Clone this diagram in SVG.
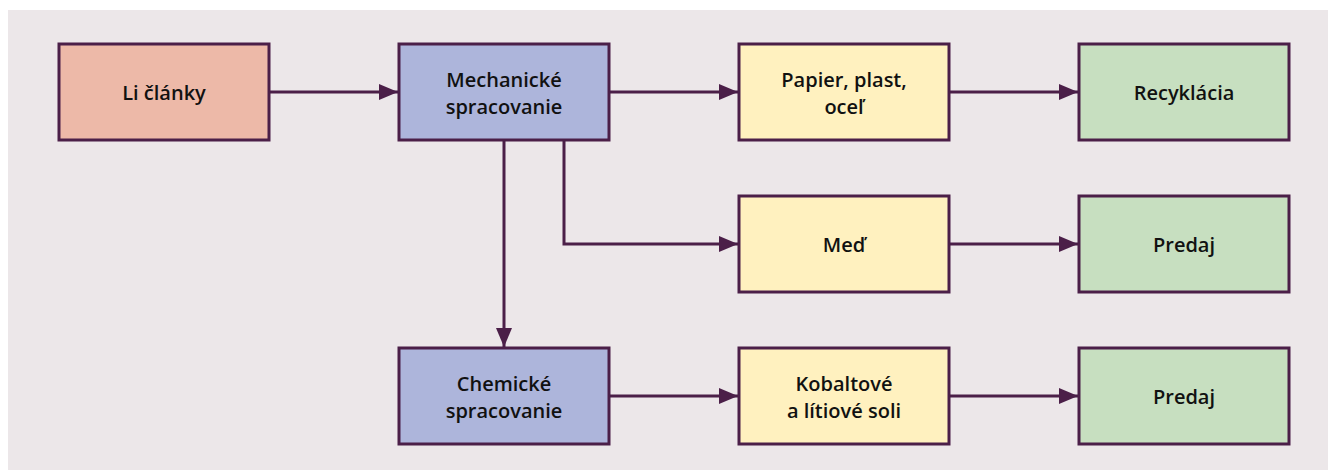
<svg xmlns="http://www.w3.org/2000/svg" width="1328" height="470" viewBox="0 0 1328 470">
  <style>
    .box { stroke: #4B1F48; stroke-width: 3; }
    .src { fill: #EDB9A8; }
    .proc { fill: #ADB5DB; }
    .mat { fill: #FFF1BF; }
    .out { fill: #C7DFC0; }
    .lbl { font-family: "Open Sans", "Noto Sans", sans-serif; font-weight: 600; font-size: 20px; fill: #111111; text-anchor: middle; }
    .edge { fill: none; stroke: #4B1F48; stroke-width: 3; }
  </style>
  <defs>
    <marker id="arrow" markerUnits="userSpaceOnUse" markerWidth="20" markerHeight="16" refX="19" refY="8" orient="auto">
      <path d="M0,0 L19,8 L0,16 Z" fill="#4B1F48"/>
    </marker>
  </defs>

  <rect x="8" y="10" width="1320" height="460" fill="#ECE7E9"/>

  <g id="connectors">
    <path class="edge" d="M269,92 H398" marker-end="url(#arrow)"/>
    <path class="edge" d="M609,92 H738" marker-end="url(#arrow)"/>
    <path class="edge" d="M949,92 H1078" marker-end="url(#arrow)"/>
    <path class="edge" d="M564,141 V244 H738" marker-end="url(#arrow)"/>
    <path class="edge" d="M949,244 H1078" marker-end="url(#arrow)"/>
    <path class="edge" d="M504,141 V347" marker-end="url(#arrow)"/>
    <path class="edge" d="M609,396 H738" marker-end="url(#arrow)"/>
    <path class="edge" d="M949,396 H1078" marker-end="url(#arrow)"/>
  </g>

  <g id="li-clanky">
    <rect class="box src" x="59" y="44" width="210" height="96"/>
    <text class="lbl" x="164" y="100">Li články</text>
  </g>
  <g id="mechanicke">
    <rect class="box proc" x="399" y="44" width="210" height="96"/>
    <text class="lbl" x="504" y="87">Mechanické</text>
    <text class="lbl" x="504" y="114">spracovanie</text>
  </g>
  <g id="papier">
    <rect class="box mat" x="739" y="44" width="210" height="96"/>
    <text class="lbl" x="844" y="87">Papier, plast,</text>
    <text class="lbl" x="844" y="114">oceľ</text>
  </g>
  <g id="recyklacia">
    <rect class="box out" x="1079" y="44" width="210" height="96"/>
    <text class="lbl" x="1184" y="100">Recyklácia</text>
  </g>
  <g id="med">
    <rect class="box mat" x="739" y="196" width="210" height="96"/>
    <text class="lbl" x="844" y="252">Meď</text>
  </g>
  <g id="predaj-1">
    <rect class="box out" x="1079" y="196" width="210" height="96"/>
    <text class="lbl" x="1184" y="252">Predaj</text>
  </g>
  <g id="chemicke">
    <rect class="box proc" x="399" y="348" width="210" height="96"/>
    <text class="lbl" x="504" y="391">Chemické</text>
    <text class="lbl" x="504" y="418">spracovanie</text>
  </g>
  <g id="soli">
    <rect class="box mat" x="739" y="348" width="210" height="96"/>
    <text class="lbl" x="844" y="391">Kobaltové</text>
    <text class="lbl" x="844" y="418">a lítiové soli</text>
  </g>
  <g id="predaj-2">
    <rect class="box out" x="1079" y="348" width="210" height="96"/>
    <text class="lbl" x="1184" y="404">Predaj</text>
  </g>
</svg>
